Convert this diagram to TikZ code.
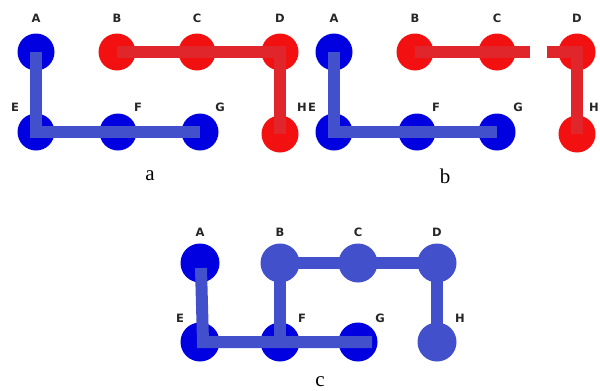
\documentclass[tikz,border=0pt]{standalone}
\usepackage{fontspec}
\setmainfont{Liberation Serif}
\newfontfamily\lblfont{DejaVu Sans}
\definecolor{nodeblue}{HTML}{0000E0}
\definecolor{lineblue}{HTML}{4350CC}
\definecolor{nodered}{HTML}{F21010}
\definecolor{linered}{HTML}{E0262A}
\begin{document}
\begin{tikzpicture}[x=1pt,y=-1pt,
  dot/.style={circle,minimum size=37pt,inner sep=0pt,draw=none,fill=#1},
  bigdot/.style={circle,minimum size=39pt,inner sep=0pt,draw=none,fill=#1},
  lbl/.style={font=\lblfont\bfseries\fontsize{11.5}{11.5}\selectfont,inner sep=0pt,text=black!85},
  captxt/.style={font=\fontsize{21}{21}\selectfont,inner sep=0pt},
  bline/.style={draw=lineblue,line width=12pt},
  rline/.style={draw=linered,line width=12pt}]
\useasboundingbox (0,0) rectangle (600,391);
% ---------------- panel a ----------------
\node[dot=nodeblue] (aA) at (36,52) {};
\node[dot=nodered]  (aB) at (117,52) {};
\node[dot=nodered]  (aC) at (197,52) {};
\node[dot=nodered]  (aD) at (280,52) {};
\node[dot=nodeblue] (aE) at (36,132) {};
\node[dot=nodeblue] (aF) at (118,132) {};
\node[dot=nodeblue] (aG) at (200,132) {};
\node[dot=nodered]  (aH) at (280,134) {};
\draw[bline] (aA.center) -- (aE.center) -- (aG.center);
\draw[rline] (aB.center) -- (aD.center) -- (aH.center);
\node[lbl] (laA) at (36,18) {A};
\node[lbl] (laB) at (117,18) {B};
\node[lbl] (laC) at (197,18) {C};
\node[lbl] (laD) at (280,18) {D};
\node[lbl] (laE) at (15,107) {E};
\node[lbl] (laF) at (138,107) {F};
\node[lbl] (laG) at (220,107) {G};
\node[lbl] (laH) at (302,107) {H};
\node[captxt] (capa) at (150,176) {a};
% ---------------- panel b ----------------
\node[dot=nodeblue] (bA) at (334,52) {};
\node[dot=nodered]  (bB) at (415,52) {};
\node[dot=nodered]  (bC) at (497,52) {};
\node[dot=nodered]  (bD) at (577,52) {};
\node[dot=nodeblue] (bE) at (334,132) {};
\node[dot=nodeblue] (bF) at (417,132) {};
\node[dot=nodeblue] (bG) at (497,132) {};
\node[dot=nodered]  (bH) at (577,134) {};
\coordinate (bg1) at (530,52);
\coordinate (bg2) at (547,52);
\draw[bline] (bA.center) -- (bE.center) -- (bG.center);
\draw[rline] (bB.center) -- (bg1);
\draw[rline] (bg2) -- (bD.center) -- (bH.center);
\node[lbl] (lbA) at (334,18) {A};
\node[lbl] (lbB) at (415,18) {B};
\node[lbl] (lbC) at (497,18) {C};
\node[lbl] (lbD) at (577,18) {D};
\node[lbl] (lbE) at (312,107) {E};
\node[lbl] (lbF) at (436,107) {F};
\node[lbl] (lbG) at (518,107) {G};
\node[lbl] (lbH) at (594,107) {H};
\node[captxt] (capb) at (445,176) {b};
% ---------------- panel c ----------------
\node[bigdot=nodeblue] (cA) at (200,263) {};
\node[bigdot=lineblue] (cB) at (280,263) {};
\node[bigdot=lineblue] (cC) at (358,263) {};
\node[bigdot=lineblue] (cD) at (437,263) {};
\node[bigdot=nodeblue] (cE) at (200,342) {};
\node[bigdot=nodeblue] (cF) at (280,342) {};
\node[bigdot=nodeblue] (cG) at (358,342) {};
\node[bigdot=lineblue] (cH) at (437,342) {};
\coordinate (cEc) at (203,342);
\coordinate (cGe) at (372,342);
\draw[bline] ([xshift=1pt,yshift=-5pt]cA.center) -- (cEc) -- (cGe);
\draw[bline] (cF.center) -- (cB.center) -- (cD.center) -- (cH.center);
\node[lbl] (lcA) at (200,232) {A};
\node[lbl] (lcB) at (280,232) {B};
\node[lbl] (lcC) at (358,232) {C};
\node[lbl] (lcD) at (437,232) {D};
\node[lbl] (lcE) at (180,318) {E};
\node[lbl] (lcF) at (302,318) {F};
\node[lbl] (lcG) at (380,318) {G};
\node[lbl] (lcH) at (460,318) {H};
\node[captxt] (capc) at (320,382) {c};
\end{tikzpicture}
\end{document}
